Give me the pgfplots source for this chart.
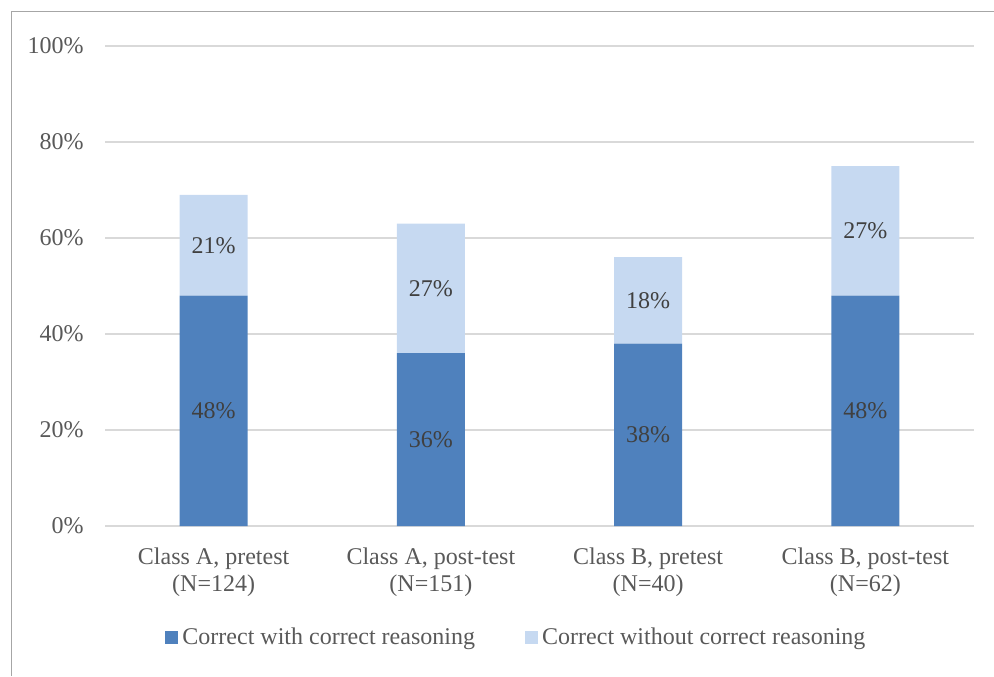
\documentclass[border=0pt]{standalone}
\usepackage{pgfplots}
\pgfplotsset{compat=1.18}
\usepackage{fontspec}
\setmainfont{Liberation Serif}
\definecolor{darkblue}{HTML}{4F81BD}
\definecolor{lightblue}{HTML}{C6D9F1}
\definecolor{txt}{HTML}{595959}
\definecolor{lbl}{HTML}{404040}
\definecolor{gridc}{HTML}{D9D9D9}
\definecolor{framec}{HTML}{A6A6A6}
\begin{document}
\fontsize{12}{13.5}\selectfont
\begin{tikzpicture}
\begin{axis}[
  at={(52.5pt,75pt)}, anchor=south west,
  scale only axis, width=434.5pt, height=240pt,
  ybar stacked, bar width=34pt,
  xmin=-0.5, xmax=3.5, ymin=0, ymax=100,
  xtick={0,1,2,3},
  xticklabels={{Class A, pretest\\(N=124)},{Class A, post-test\\(N=151)},{Class B, pretest\\(N=40)},{Class B, post-test\\(N=62)}},
  ytick={0,20,40,60,80,100},
  yticklabel={\pgfmathprintnumber{\tick}\%},
  /pgf/number format/assume math mode=true,
  ymajorgrids, grid style={gridc, line width=0.75pt},
  axis line style={draw=none},
  major tick style={draw=none},
  tick label style={font=\fontsize{12}{13.5}\selectfont, text=txt},
  xticklabel style={align=center, yshift=-6.5pt},
  yticklabel style={xshift=-6.5pt},
  nodes near coords={\pgfmathprintnumber{\pgfplotspointmeta}\%},
  every node near coord/.append style={font=\fontsize{12}{13.5}\selectfont, text=lbl, anchor=center},
  legend style={at={(0.4745,-0.233)}, anchor=center, legend columns=2, draw=none, fill=none,
    font=\fontsize{12}{13.5}\selectfont, text=txt,
    /tikz/every even column/.append style={column sep=23pt}},
  legend image code/.code={\draw[#1,draw=none] (0pt,-3.3pt) rectangle (6.6pt,3.3pt);},
]
\addplot[fill=darkblue, draw=none] coordinates {(0,48) (1,36) (2,38) (3,48)};
\addplot[fill=lightblue, draw=none] coordinates {(0,21) (1,27) (2,18) (3,27)};
\legend{Correct with correct reasoning, Correct without correct reasoning}
\end{axis}
\draw[framec, line width=0.5pt] (5.5pt,0pt) -- (5.5pt,332.25pt) -- (497pt,332.25pt);
\pgfresetboundingbox
\path[use as bounding box] (0,0) rectangle (497pt,338pt);
\end{tikzpicture}
\end{document}
